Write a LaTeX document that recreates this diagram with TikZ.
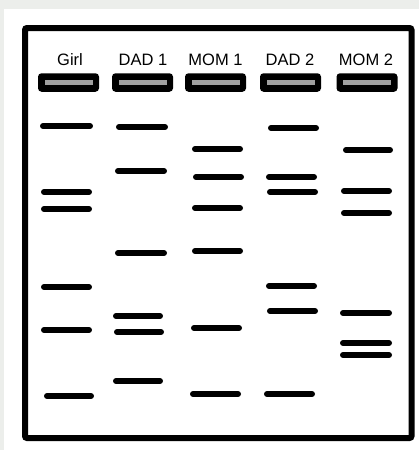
\documentclass[tikz,border=0pt]{standalone}
\usepackage{fontspec}
\setmainfont{Liberation Sans}
\definecolor{bggray}{HTML}{ECEEEB}
\definecolor{wellgray}{HTML}{A0A0A0}
\tikzset{
  lanelabel/.style={anchor=base, inner sep=0pt, font=\fontsize{16.5}{18}\selectfont},
  well/.style={fill=black, rounded corners=3.5pt, minimum width=61pt, minimum height=18.5pt, inner sep=0pt},
  wellslot/.style={fill=wellgray},
  band/.style={line width=6pt, line cap=round},
  gelframe/.style={line width=6pt, rounded corners=2pt}
}
\newcommand{\gband}[3]{\draw[band] (#1+3,#3) -- (#2-3,#3);}
\begin{document}
\begin{tikzpicture}[x=1pt,y=-1pt]
\useasboundingbox (0,0) rectangle (419,450);
\fill[bggray] (0,0) rectangle (419,450);
\fill[white] (4,9) rectangle (419,450);
\draw[gelframe] (25,28) rectangle (411.5,438);
% labels
\node[lanelabel] (lgirl) at (70,65) {Girl};
\node[lanelabel] (ldad1) at (143,65) {DAD 1};
\node[lanelabel] (lmom1) at (215.5,65) {MOM 1};
\node[lanelabel] (ldad2) at (290,65) {DAD 2};
\node[lanelabel] (lmom2) at (366,65) {MOM 2};
% wells
\foreach \n/\x in {wgirl/68.5, wdad1/142.5, wmom1/215.5, wdad2/290.5, wmom2/367}{
  \node[well] (\n) at (\x,82.5) {};
  \fill[wellslot] (\x-24,80) rectangle (\x+24,85);
}
% Girl
\gband{40}{93}{126}
\gband{41}{92}{192}
\gband{41}{92}{209}
\gband{41}{92}{287}
\gband{41}{92}{330}
\gband{44}{94}{396}
% DAD 1
\gband{116}{168}{127}
\gband{115}{167}{171}
\gband{115}{167}{253}
\gband{113}{163}{316}
\gband{114}{164}{332}
\gband{113}{163}{381}
% MOM 1
\gband{192}{243}{149}
\gband{193}{244}{177}
\gband{192}{243}{208}
\gband{192}{243}{251}
\gband{191}{242}{328}
\gband{190}{241}{394}
% DAD 2
\gband{268}{319}{128}
\gband{266}{317}{177}
\gband{267}{318}{192}
\gband{266}{317}{286}
\gband{267}{318}{311}
\gband{264}{315}{394}
% MOM 2
\gband{343}{393}{150}
\gband{341}{392}{191}
\gband{341}{392}{213}
\gband{340}{392}{313}
\gband{340}{392}{343}
\gband{340}{392}{355}
\end{tikzpicture}
\end{document}
